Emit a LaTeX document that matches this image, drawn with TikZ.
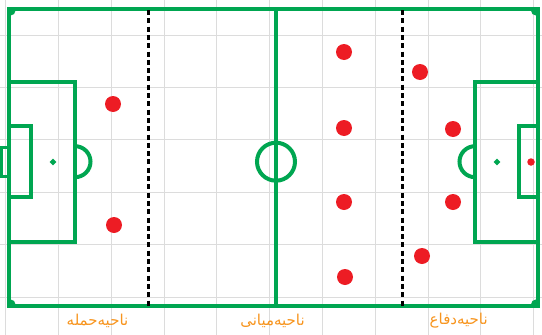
\documentclass[tikz,border=0pt]{standalone}
\usepackage{fontspec}
\newfontfamily\farsifont[Script=Arabic]{DejaVu Sans}
\TeXXeTstate=1
\usepackage{tikz}
\usetikzlibrary{shapes.geometric}
\definecolor{pitch} {HTML}{00A651}
\definecolor{player}{HTML}{ED1C24}
\definecolor{zone}  {HTML}{F7941D}
\definecolor{gridLt}{HTML}{DCDCDC}

\begin{document}
\begin{tikzpicture}[
  x=1pt, y=-1pt,
  line/.style={draw=pitch, line width=4pt},
  gridline/.style={draw=gridLt, line width=0.9pt},
  half/.style={draw=black, line width=2.7pt, dash pattern=on 5pt off 3.3pt},
  man/.style={circle, fill=player, inner sep=0pt, minimum size=16pt},
  spot/.style={diamond, fill=pitch, inner sep=0pt, minimum size=7pt},
  lbl/.style={font=\farsifont\fontsize{15}{17}\selectfont, text=zone, inner sep=0pt}
]
\useasboundingbox (0,0) rectangle (542,335);
% grid
\foreach \i in {0,...,10}{\draw[gridline] ({5.6+52.8*\i},0) -- ({5.6+52.8*\i},335);}
\foreach \j in {0,...,5}{\draw[gridline] (0,{35+52.4*\j}) -- (542,{35+52.4*\j});}
% pitch
\draw[line] (9,9) rectangle (537.5,306);
\draw[line] (276,9) -- (276,306);
\draw[line] (276,161.7) circle (19);
\draw[line] (9,81.7) rectangle (75,242);
\draw[line] (9,125.7) rectangle (31,197);
\draw[line, line width=3pt] (1,147) rectangle (9,176);
\draw[line] (75,146.2) arc (-90:90:15.5);
\draw[line] (475,81.7) rectangle (537.5,242);
\draw[line] (519,125.7) rectangle (537.5,197);
\draw[line] (475,146.2) arc (270:90:15.5);
\draw[line] (14,9) arc (0:90:5);
\draw[line] (532.5,9) arc (180:90:5);
\draw[line] (14,306) arc (0:-90:5);
\draw[line] (532.5,306) arc (180:270:5);
\node[spot] (spotL) at (53,162) {};
\node[spot] (spotR) at (497,162) {};
% zones
\draw[half] (148.3,10) -- (148.3,306);
\draw[half] (402.7,10) -- (402.7,306);
% players
\foreach \n/\x/\y in {p1/113/104, p2/114/225, p3/344/52, p4/344/128, p5/344/202,
                      p6/345/277, p7/420/72, p8/453/129, p9/453/202, p10/422/256}{
  \node[man] (\n) at (\x,\y) {};
}
\node[man, minimum size=7.5pt] (ball) at (531,162) {};
% labels
\node[lbl] (attack) at (97.5,321) {\beginR ناحیه‌حمله\endR};
\node[lbl] (middle) at (272.5,321) {\beginR ناحیه‌میانی\endR};
\node[lbl] (defend) at (458.7,321) {\beginR ناحیه‌دفاع\endR};
\end{tikzpicture}
\end{document}
